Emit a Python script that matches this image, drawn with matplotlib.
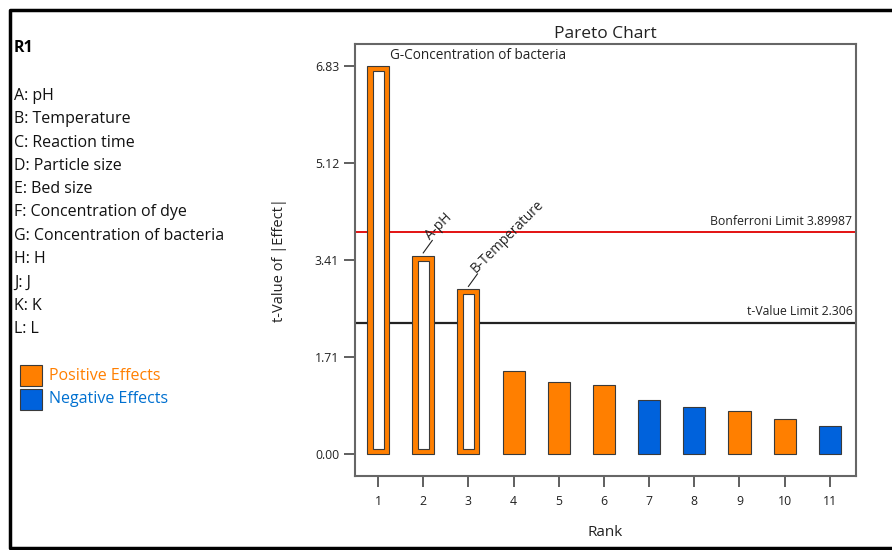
import numpy as np
import matplotlib.pyplot as plt
from matplotlib.patches import Rectangle
from matplotlib.lines import Line2D

plt.rcParams['font.family'] = ['Open Sans', 'DejaVu Sans']

# data
ranks = [1, 2, 3, 4, 5, 6, 7, 8, 9, 10, 11]
t_values = [6.83, 3.49, 2.90, 1.46, 1.27, 1.21, 0.95, 0.82, 0.75, 0.62, 0.49]
positive = [True, True, True, True, True, True, False, False, True, True, False]
significant = [True, True, True, False, False, False, False, False, False, False, False]
bar_labels = ['G-Concentration of bacteria', 'A-pH', 'B-Temperature']
y_ticks = [0.00, 1.71, 3.41, 5.12, 6.83]
bonferroni = 3.89987
t_limit = 2.306
factors = ['A: pH', 'B: Temperature', 'C: Reaction time', 'D: Particle size',
           'E: Bed size', 'F: Concentration of dye', 'G: Concentration of bacteria',
           'H: H', 'J: J', 'K: K', 'L: L']

orange = '#ff7f00'
blue = '#0062dc'
edge = '#3a3a3a'

fig = plt.figure(figsize=(8.92, 5.5), dpi=100)
ax = fig.add_axes([0.398, 0.1345, 0.5617, 0.7855])

w = 0.49
for r, v, pos, sig in zip(ranks, t_values, positive, significant):
    col = orange if pos else blue
    ax.bar(r, v, width=w, color=col, edgecolor=edge, linewidth=0.8, zorder=3)
    if sig:
        # hollow look for the significant effects
        ax.bar(r, v - 0.18, bottom=0.09, width=0.245, color='white',
               edgecolor=edge, linewidth=0.8, zorder=4)

ax.axhline(bonferroni, color='#e00000', lw=1.3, zorder=2)
ax.axhline(t_limit, color='#222222', lw=1.6, zorder=2)
ax.text(11.5, bonferroni + 0.08, 'Bonferroni Limit 3.89987', ha='right', va='bottom',
        fontsize=8.8, color='#222222')
ax.text(11.5, t_limit + 0.08, 't-Value Limit 2.306', ha='right', va='bottom',
        fontsize=8.8, color='#222222')

# bar annotations
ax.text(ranks[0] + 0.27, t_values[0] + 0.06, bar_labels[0], ha='left', va='bottom',
        fontsize=9.8, color='#222222')
for i in [1, 2]:
    x0 = ranks[i] + 0.0
    y0 = t_values[i] + 0.05
    ax.plot([x0, x0 + 0.2], [y0, y0 + 0.22], color='#222222', lw=0.8, zorder=5)
    ax.text(x0 + 0.22, y0 + 0.18, bar_labels[i], rotation=45, ha='left', va='bottom',
            rotation_mode='anchor', fontsize=9.8, color='#222222')

ax.set_xlim(0.49, 11.58)
ax.set_ylim(-0.39, 7.22)
ax.set_xticks(ranks)
ax.set_yticks(y_ticks)
ax.set_yticklabels([f'{t:.2f}' for t in y_ticks])
ax.tick_params(axis='both', labelsize=8.8, length=8, width=1.2, color='#444444',
               labelcolor='#222222')
ax.tick_params(axis='x', pad=6)
for s in ax.spines.values():
    s.set_color('#666666')
    s.set_linewidth(1.5)

ax.set_title('Pareto Chart', fontsize=12.5, color='#222222', pad=4)
ax.set_xlabel('Rank', fontsize=11, color='#222222', labelpad=12)
ax.set_ylabel('t-Value of |Effect|', fontsize=10.5, color='#222222', labelpad=20)

# left side panel
fig.text(14 / 892, 1 - 48 / 550, 'R1', fontsize=11.5, fontweight='bold', va='center')
for k, f in enumerate(factors):
    fig.text(14 / 892, 1 - (96 + 23.3 * k) / 550, f, fontsize=11.5, va='center',
             color='#111111')

fig.add_artist(Rectangle((20 / 892, 1 - 386 / 550), 22 / 892, 21 / 550,
                         transform=fig.transFigure, facecolor=orange, edgecolor=edge, lw=0.8))
fig.add_artist(Rectangle((20 / 892, 1 - 410 / 550), 22 / 892, 21 / 550,
                         transform=fig.transFigure, facecolor=blue, edgecolor=edge, lw=0.8))
fig.text(49 / 892, 1 - 376 / 550, 'Positive Effects', fontsize=11.5, color=orange, va='center')
fig.text(49 / 892, 1 - 399 / 550, 'Negative Effects', fontsize=11.5, color='#0070d0', va='center')

# frame around the figure (open on the right side)
fx = [1.0, 9.5 / 892, 9.5 / 892, 1.0]
fy = [1 - 9.5 / 550, 1 - 9.5 / 550, 1 - 548 / 550, 1 - 548 / 550]
fig.add_artist(Line2D(fx, fy, transform=fig.transFigure, color='black', lw=2.5))

fig.savefig('out.png', dpi=100)
